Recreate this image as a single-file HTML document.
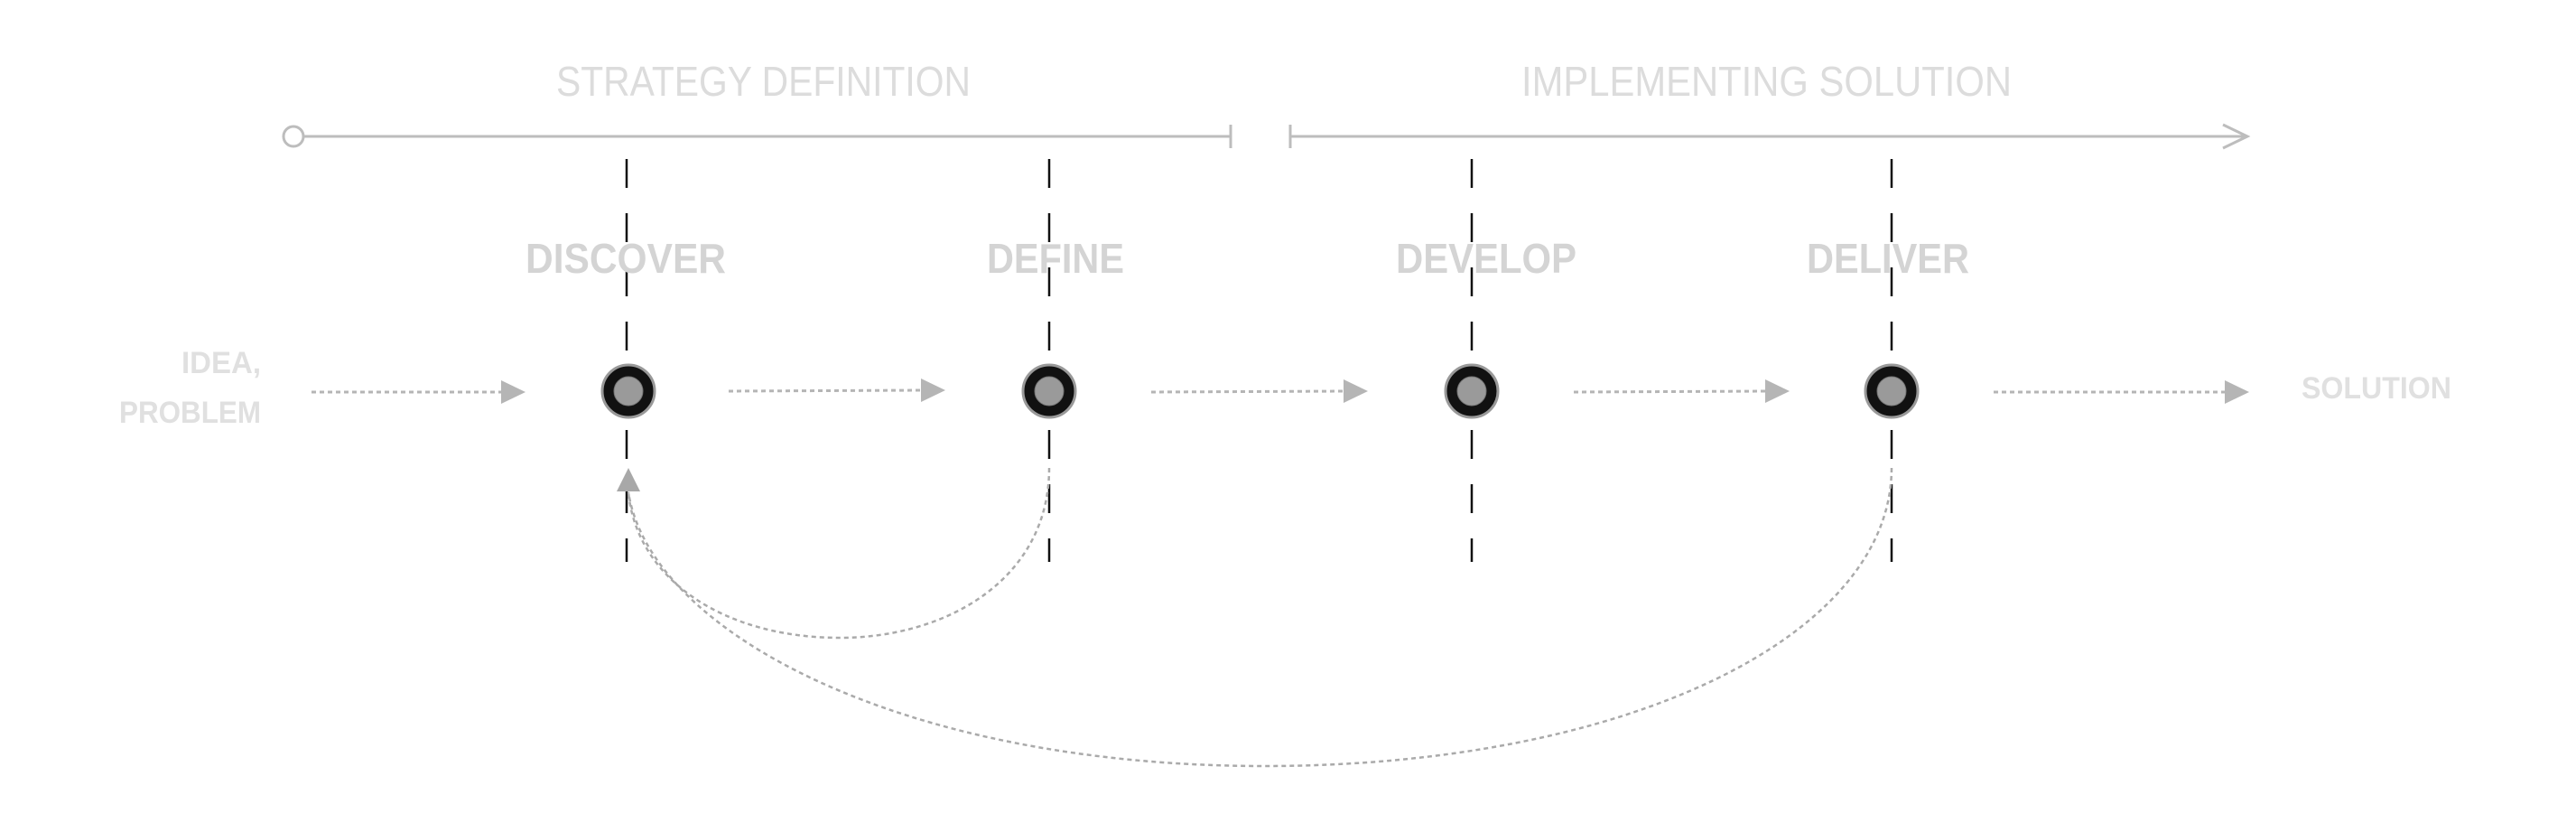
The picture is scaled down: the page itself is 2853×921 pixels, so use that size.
<!DOCTYPE html>
<html><head><meta charset="utf-8"><style>
html,body{margin:0;padding:0;background:#fff;}
svg{display:block;}
</style></head><body>
<svg width="2853" height="921" viewBox="0 0 2853 921" xmlns="http://www.w3.org/2000/svg" font-family="Liberation Sans, sans-serif">
<text x="616" y="106" font-size="46" fill="#dcdcdc" textLength="459" lengthAdjust="spacingAndGlyphs">STRATEGY DEFINITION</text>
<text x="1685" y="106" font-size="46" fill="#dcdcdc" textLength="543" lengthAdjust="spacingAndGlyphs">IMPLEMENTING SOLUTION</text>
<g stroke="#bdbdbd" stroke-width="3" fill="none">
<circle cx="325" cy="151" r="11" fill="#fff"/>
<line x1="336" y1="151" x2="1363" y2="151"/>
<line x1="1363" y1="138" x2="1363" y2="164"/>
<line x1="1429" y1="151" x2="2489" y2="151"/>
<line x1="1429" y1="138" x2="1429" y2="164"/>
<polyline points="2462,138 2489,151 2462,164"/>
</g>
<g stroke="#111" stroke-width="2.5" stroke-dasharray="32 28">
<line x1="694" y1="176" x2="694" y2="622"/>
<line x1="1162" y1="176" x2="1162" y2="622"/>
<line x1="1630" y1="176" x2="1630" y2="622"/>
<line x1="2095" y1="176" x2="2095" y2="622"/>
</g>
<g font-size="46" font-weight="bold" fill="#d4d4d4">
<text x="582" y="302" textLength="222" lengthAdjust="spacingAndGlyphs">DISCOVER</text>
<text x="1093" y="302" textLength="152" lengthAdjust="spacingAndGlyphs">DEFINE</text>
<text x="1546" y="302" textLength="200" lengthAdjust="spacingAndGlyphs">DEVELOP</text>
<text x="2001" y="302" textLength="180" lengthAdjust="spacingAndGlyphs">DELIVER</text>
</g>
<g font-size="34" font-weight="bold" fill="#e0e0e0">
<text x="289" y="413" text-anchor="end" textLength="88" lengthAdjust="spacingAndGlyphs">IDEA,</text>
<text x="289" y="468" text-anchor="end" textLength="157" lengthAdjust="spacingAndGlyphs">PROBLEM</text>
<text x="2549" y="441" textLength="166" lengthAdjust="spacingAndGlyphs">SOLUTION</text>
</g>
<g stroke="#b5b5b5" stroke-width="3" stroke-dasharray="5 4" fill="none">
<line x1="345" y1="434" x2="556" y2="434"/>
<line x1="807" y1="433" x2="1021" y2="432"/>
<line x1="1275" y1="434" x2="1489" y2="433"/>
<line x1="1743" y1="434" x2="1956" y2="433"/>
<line x1="2208" y1="434" x2="2465" y2="434"/>
</g>
<g fill="#b5b5b5">
<polygon points="555,421 582,434 555,447"/>
<polygon points="1020,419 1047,432 1020,445"/>
<polygon points="1488,420 1515,433 1488,446"/>
<polygon points="1955,420 1982,433 1955,446"/>
<polygon points="2464,421 2491,434 2464,447"/>
</g>
<g>
<circle cx="696" cy="433" r="29" fill="#111" stroke="#999" stroke-width="3"/>
<circle cx="696" cy="433" r="16" fill="#9a9a9a" stroke="#777" stroke-width="1"/>
<circle cx="1162" cy="433" r="29" fill="#111" stroke="#999" stroke-width="3"/>
<circle cx="1162" cy="433" r="16" fill="#9a9a9a" stroke="#777" stroke-width="1"/>
<circle cx="1630" cy="433" r="29" fill="#111" stroke="#999" stroke-width="3"/>
<circle cx="1630" cy="433" r="16" fill="#9a9a9a" stroke="#777" stroke-width="1"/>
<circle cx="2095" cy="433" r="29" fill="#111" stroke="#999" stroke-width="3"/>
<circle cx="2095" cy="433" r="16" fill="#9a9a9a" stroke="#777" stroke-width="1"/>
</g>
<g stroke="#aaa" stroke-width="2.5" stroke-dasharray="5 4" fill="none">
<path d="M1162 518 C1162 640 1050 706 930 706 C800 706 705 640 696 545"/>
<path d="M2095 518 C2095 705 1800 848 1400 848 C1000 848 720 700 696 545"/>
</g>
<polygon points="683,544 696,518 709,544" fill="#a8a8a8"/>
</svg>
</body></html>
